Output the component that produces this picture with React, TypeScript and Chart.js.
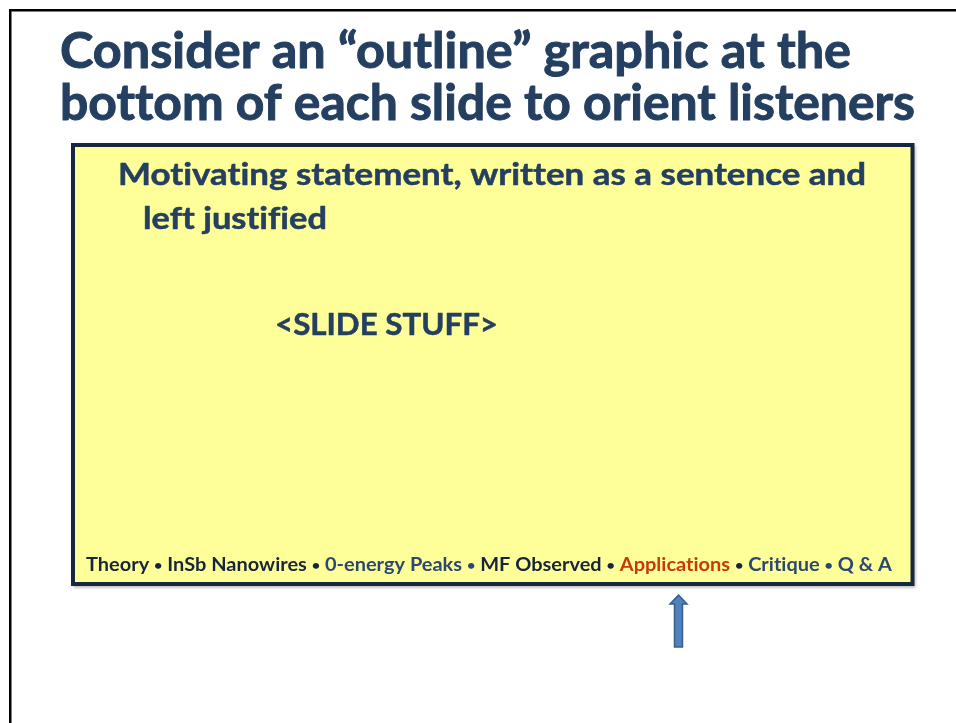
import React, { useEffect, useRef } from "react";
import { Chart, registerables } from "chart.js";

Chart.register(...registerables);

// ---- content ----
const titleLines = [
  "Consider an \u201Coutline\u201D graphic at the",
  "bottom of each slide to orient listeners",
];
const statementLines = [
  "Motivating statement, written as a sentence and",
  "left justified",
];
const placeholderText = "<SLIDE STUFF>";
const outlineItems = [
  "Theory",
  "InSb Nanowires",
  "0-energy Peaks",
  "MF Observed",
  "Applications",
  "Critique",
  "Q & A",
];
const outlineTones = ["dark", "dark", "mid", "dark", "current", "mid", "mid"];
const currentSection = "Applications";

// ---- styles / layout ----
const FONT = "Lato, 'Open Sans', 'DejaVu Sans', sans-serif";
const COLORS: Record<string, string> = {
  title: "#243f60",
  dark: "#16253b",
  mid: "#2c4870",
  current: "#c9390c",
  boxFill: "#ffff99",
  boxEdge: "#16283f",
  arrowFill: "#4f81bd",
  arrowEdge: "#385d8a",
};

function noLig(ctx: CanvasRenderingContext2D) {
  try {
    (ctx as any).letterSpacing = "0.01px";
  } catch (e) {}
}

function fitText(
  ctx: CanvasRenderingContext2D,
  text: string,
  x: number,
  y: number,
  size: number,
  width: number,
  color: string,
  stroke = 0
) {
  ctx.save();
  ctx.font = `bold ${size}px ${FONT}`;
  noLig(ctx);
  const w = ctx.measureText(text).width;
  ctx.translate(x, y);
  ctx.scale(width / w, 1);
  ctx.fillStyle = color;
  ctx.textBaseline = "alphabetic";
  ctx.textAlign = "left";
  ctx.fillText(text, 0, 0);
  if (stroke > 0) {
    ctx.lineWidth = stroke;
    ctx.strokeStyle = color;
    ctx.lineJoin = "round";
    ctx.strokeText(text, 0, 0);
  }
  ctx.restore();
}

const slidePlugin = {
  id: "slidePlugin",
  beforeDraw(chart: any) {
    const ctx: CanvasRenderingContext2D = chart.ctx;
    ctx.save();
    ctx.fillStyle = "#ffffff";
    ctx.fillRect(0, 0, chart.width, chart.height);
    ctx.restore();
  },
  afterDraw(chart: any) {
    const ctx: CanvasRenderingContext2D = chart.ctx;
    // slide edge
    ctx.save();
    ctx.fillStyle = "#000000";
    ctx.fillRect(9, 9, chart.width, 2.5);
    ctx.fillRect(9, 9, 2.5, chart.height);
    ctx.restore();

    // title
    fitText(ctx, titleLines[0], 60, 68, 49, 791, COLORS.title, 1);
    fitText(ctx, titleLines[1], 60, 120, 49, 855, COLORS.title, 1);

    // yellow box
    ctx.save();
    ctx.shadowColor = "rgba(0,0,0,0.3)";
    ctx.shadowBlur = 3;
    ctx.shadowOffsetX = 1.5;
    ctx.shadowOffsetY = 1.5;
    ctx.fillStyle = COLORS.boxEdge;
    ctx.fillRect(71, 143, 843.5, 443);
    ctx.restore();
    ctx.save();
    ctx.fillStyle = COLORS.boxFill;
    ctx.fillRect(75, 147, 835.5, 435);
    ctx.restore();

    // statement
    fitText(ctx, statementLines[0], 118, 185, 30, 748, COLORS.title, 0.5);
    fitText(ctx, statementLines[1], 143, 229, 30, 184, COLORS.title, 0.5);

    // placeholder
    fitText(ctx, placeholderText, 275, 335, 30, 223, COLORS.title, 0.5);

    // outline bar
    const size = 18;
    const bulletSize = 13;
    ctx.save();
    noLig(ctx);
    const sep = "\u2022";
    const segs: { t: string; c: string; bullet: boolean }[] = [];
    outlineItems.forEach((item, i) => {
      const tone = item === currentSection ? "current" : outlineTones[i];
      segs.push({ t: item, c: COLORS[tone], bullet: false });
      if (i < outlineItems.length - 1) {
        segs.push({ t: sep, c: tone === "current" ? COLORS.dark : COLORS[tone], bullet: true });
      }
    });
    const widthOf = (s: { t: string; bullet: boolean }) => {
      ctx.font = `bold ${size}px ${FONT}`;
      const space = ctx.measureText(" ").width;
      if (!s.bullet) return ctx.measureText(s.t).width;
      ctx.font = `bold ${bulletSize}px ${FONT}`;
      return ctx.measureText(s.t).width + 2 * space;
    };
    const total = segs.reduce((a, s) => a + widthOf(s), 0);
    const sx = 806 / total;
    ctx.translate(86, 571);
    ctx.scale(sx, 1);
    let cx = 0;
    segs.forEach((s) => {
      const w = widthOf(s);
      ctx.fillStyle = s.c;
      if (s.bullet) {
        ctx.font = `bold ${bulletSize}px ${FONT}`;
        ctx.textAlign = "center";
        ctx.fillText(s.t, cx + w / 2, -1.5);
        ctx.textAlign = "left";
      } else {
        ctx.font = `bold ${size}px ${FONT}`;
        ctx.fillText(s.t, cx, 0);
      }
      cx += w;
    });
    ctx.restore();

    // arrow pointing at the current section
    ctx.save();
    ctx.beginPath();
    ctx.moveTo(678.5, 595);
    ctx.lineTo(687, 604);
    ctx.lineTo(682.5, 604);
    ctx.lineTo(682.5, 647);
    ctx.lineTo(674.5, 647);
    ctx.lineTo(674.5, 604);
    ctx.lineTo(670, 604);
    ctx.closePath();
    ctx.fillStyle = COLORS.arrowFill;
    ctx.fill();
    ctx.lineWidth = 1.5;
    ctx.strokeStyle = COLORS.arrowEdge;
    ctx.stroke();
    ctx.restore();
  },
};

export default function App() {
  const ref = useRef<HTMLCanvasElement | null>(null);
  useEffect(() => {
    document.body.style.margin = "0";
    document.body.style.overflow = "hidden";
    const canvas = ref.current!;
    const chart = new Chart(canvas, {
      type: "scatter",
      data: { datasets: [] },
      options: {
        responsive: false,
        animation: false,
        devicePixelRatio: 1,
        layout: { padding: 0 },
        plugins: { legend: { display: false }, tooltip: { enabled: false } },
        scales: { x: { display: false }, y: { display: false } },
      },
      plugins: [slidePlugin],
    });
    let alive = true;
    if ((document as any).fonts) {
      (document as any).fonts
        .load(`bold 20px Lato`)
        .then(() => alive && chart.update())
        .catch(() => {});
    }
    return () => {
      alive = false;
      chart.destroy();
    };
  }, []);
  return (
    <div style={{ width: 956, height: 723 }}>
      <canvas ref={ref} width={956} height={723} style={{ display: "block" }} />
    </div>
  );
}
